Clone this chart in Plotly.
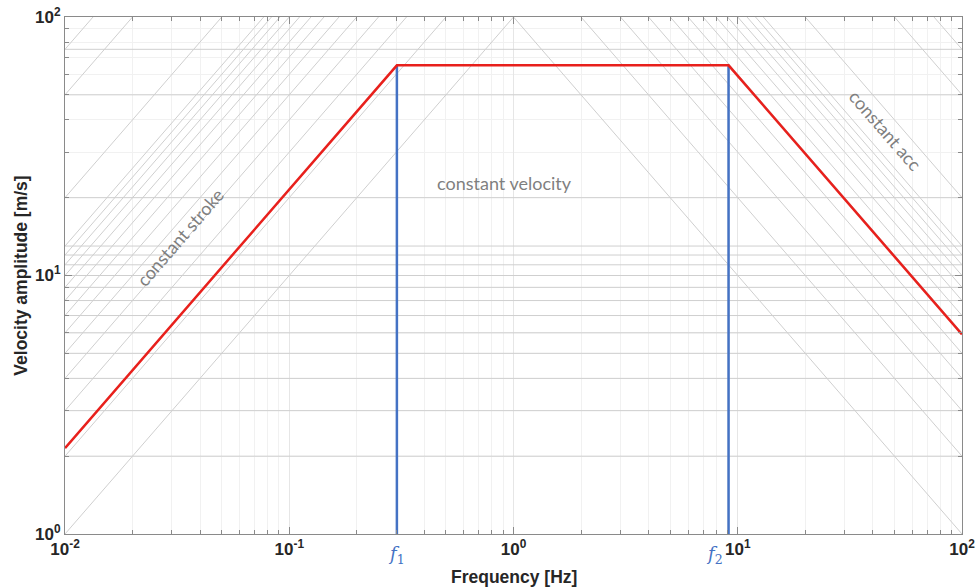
import numpy as np
import plotly.graph_objects as go

# Axis ticks (log-log)
freq_ticks = [0.01, 0.1, 1, 10, 100]
freq_tick_text = ["10<sup>-2</sup>", "10<sup>-1</sup>", "10<sup>0</sup>",
                  "10<sup>1</sup>", "10<sup>2</sup>"]
vel_ticks = [1, 10, 100]
vel_tick_text = ["10<sup>0</sup>", "10<sup>1</sup>", "10<sup>2</sup>"]

# Reference levels for the background families of lines
ref_levels = [1, 2, 3, 4, 5, 6, 7, 8, 9, 10, 11, 12, 13, 20, 50, 75]

# Operating envelope: stroke limit -> velocity limit -> acceleration limit
limit_freq = [0.01, 0.302, 9.1, 100]
limit_vel = [2.15, 65, 65, 5.92]

# Corner frequencies
f1 = 0.302
f2 = 9.1

F_MIN, F_MAX = 0.01, 100
V_MIN, V_MAX = 1, 100

GRAY = "#cfcfcf"

# Background line families built from the reference levels
up_x, up_y, dn_x, dn_y, hz_x, hz_y = [], [], [], [], [], []
for n in ref_levels:
    # constant stroke: v = 100 * n * f
    up_x += [F_MIN, V_MAX / (100 * n), None]
    up_y += [100 * n * F_MIN, V_MAX, None]
    # constant acceleration: v = 100 * n / f
    dn_x += [100 * n / V_MAX, F_MAX, None]
    dn_y += [V_MAX, 100 * n / F_MAX, None]
    # constant velocity
    if n > V_MIN:
        hz_x += [F_MIN, F_MAX, None]
        hz_y += [n, n, None]

fig = go.Figure()
for xs, ys in [(hz_x, hz_y), (up_x, up_y), (dn_x, dn_y)]:
    fig.add_trace(go.Scatter(x=xs, y=ys, mode="lines",
                             line=dict(color=GRAY, width=1),
                             hoverinfo="skip", showlegend=False))

# Corner-frequency markers
fig.add_trace(go.Scatter(x=[f1, f1, None, f2, f2],
                         y=[V_MIN, limit_vel[1], None, V_MIN, limit_vel[2]],
                         mode="lines", line=dict(color="#4472c4", width=2.5),
                         showlegend=False))

# Envelope
fig.add_trace(go.Scatter(x=limit_freq, y=limit_vel, mode="lines",
                         line=dict(color="#e8201c", width=2.5),
                         showlegend=False))

axis_common = dict(
    type="log", showline=True, linecolor="#8a8a8a", linewidth=1,
    mirror="ticks", ticks="inside", ticklen=7, tickcolor="#8a8a8a",
    showgrid=True, gridcolor="#e6e6e6", gridwidth=1, zeroline=False,
    automargin=False,
    tickfont=dict(family="Liberation Sans, Arial, sans-serif", size=17, color="#262626"),
    minor=dict(dtick="D1", ticks="inside", ticklen=4, tickcolor="#8a8a8a",
               showgrid=True, gridcolor="#f1f1f1", gridwidth=1),
)

fig.update_xaxes(range=[np.log10(F_MIN), np.log10(F_MAX)],
                 tickmode="array", tickvals=freq_ticks,
                 ticktext=["<b>%s</b>" % t for t in freq_tick_text],
                 **axis_common)
fig.update_yaxes(range=[np.log10(V_MIN), np.log10(V_MAX)],
                 tickmode="array", tickvals=vel_ticks,
                 ticktext=["<b>%s</b>" % t for t in vel_tick_text],
                 **axis_common)

# Axis titles
title_font = dict(family="Liberation Sans, Arial, sans-serif", size=17.5, color="#262626")
fig.add_annotation(x=0.5, y=-0.083, xref="paper", yref="paper",
                   xanchor="center", yanchor="middle",
                   text="<b>Frequency [Hz]</b>", showarrow=False, font=title_font)
fig.add_annotation(x=-0.05, y=0.5, xref="paper", yref="paper", textangle=-90,
                   xanchor="center", yanchor="middle",
                   text="<b>Velocity amplitude [m/s]</b>", showarrow=False, font=title_font)

label_font = dict(family="Lato, Open Sans, sans-serif", size=18, color="#7f7f7f")
# pixel slope of a unit log-log line for the text rotation
plot_w, plot_h = 979 - 65 - 17, 588 - 17 - 54
ang = np.degrees(np.arctan((plot_h / 2) / (plot_w / 4)))

fig.add_annotation(x=np.log10(0.0326), y=np.log10(14.1), text="constant stroke",
                   showarrow=False, textangle=-ang, font=label_font)
fig.add_annotation(x=np.log10(0.916), y=np.log10(22.8), text="constant velocity",
                   showarrow=False, font=label_font)
fig.add_annotation(x=np.log10(45.4), y=np.log10(36.5), text="constant acc",
                   showarrow=False, textangle=ang, font=label_font)

f_font = dict(family="DejaVu Serif, serif", size=18, color="#4472c4")
fig.add_annotation(x=np.log10(f1), y=0, yref="paper", yanchor="top", yshift=-7,
                   text="<i>f</i><sub>1</sub>", showarrow=False, font=f_font)
fig.add_annotation(x=np.log10(f2), y=0, yref="paper", yanchor="top", yshift=-7,
                   xshift=-14, text="<i>f</i><sub>2</sub>", showarrow=False, font=f_font)

fig.update_layout(width=979, height=588,
                  margin=dict(l=65, r=17, t=17, b=54),
                  paper_bgcolor="white", plot_bgcolor="white")

fig.write_html("out.html")
